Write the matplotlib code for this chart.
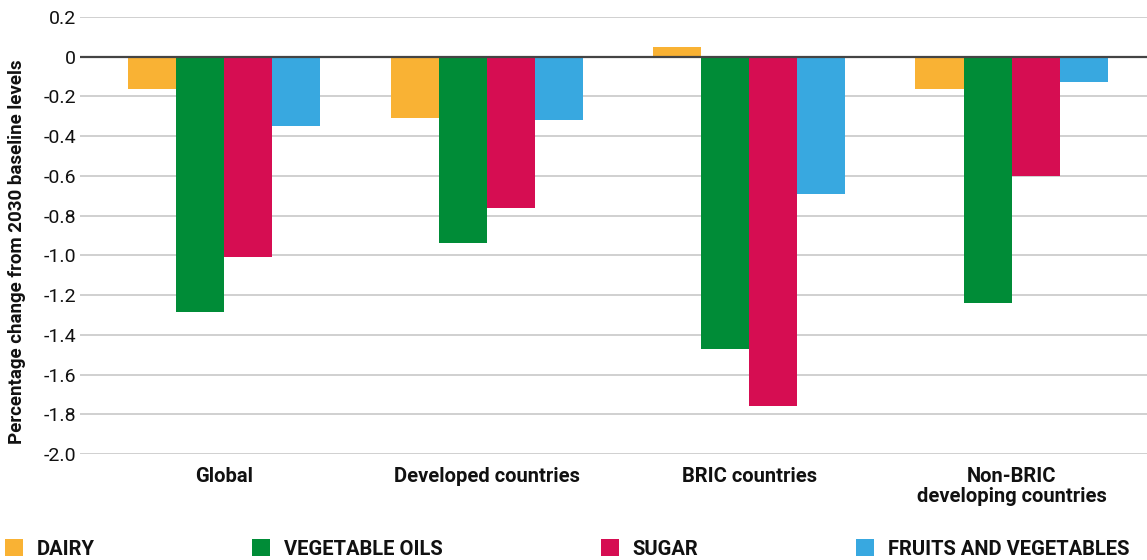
import matplotlib
matplotlib.use("Agg")
import matplotlib.pyplot as plt
import numpy as np

categories = ["Global", "Developed countries", "BRIC countries", "Non-BRIC\ndeveloping countries"]
series_names = ["DAIRY", "VEGETABLE OILS", "SUGAR", "FRUITS AND VEGETABLES"]
dairy = [-0.16, -0.31, 0.05, -0.16]
vegetable_oils = [-1.285, -0.94, -1.47, -1.24]
sugar = [-1.01, -0.76, -1.76, -0.60]
fruits_veg = [-0.35, -0.32, -0.69, -0.125]
colors = ["#F9B234", "#008C37", "#D60D52", "#38A8E0"]
yticks = [0.2, 0, -0.2, -0.4, -0.6, -0.8, -1.0, -1.2, -1.4, -1.6, -1.8, -2.0]
ytick_labels = ["0.2", "0", "-0.2", "-0.4", "-0.6", "-0.8", "-1.0", "-1.2", "-1.4", "-1.6", "-1.8", "-2.0"]

plt.rcParams['font.family'] = ['Roboto', 'DejaVu Sans']

fig = plt.figure(figsize=(11.47, 5.6), dpi=100)
ax = fig.add_axes([80/1147, 1-454/560, 1-80/1147, (454-17)/560])

x = np.arange(len(categories))
w = 0.183
all_series = [dairy, vegetable_oils, sugar, fruits_veg]
handles = []
for i, (vals, c, name) in enumerate(zip(all_series, colors, series_names)):
    h = ax.bar(x + (i - 1.5) * w, vals, width=w, color=c, label=name, zorder=2)
    handles.append(h)

ax.set_ylim(-2.0, 0.2)
ax.set_xlim(-0.549, 3.516)
ax.set_yticks(yticks)
ax.set_yticklabels(ytick_labels, fontsize=14, color="#111111")
ax.yaxis.grid(True, color="#c8c8c8", linewidth=1.2, zorder=0)
ax.axhline(0, color="#444444", linewidth=1.6, zorder=3)
ax.set_xticks(x)
ax.set_xticklabels(categories, fontsize=14.5, fontweight="bold", color="#111111", linespacing=1.1)
ax.tick_params(axis="y", length=0, pad=3)
ax.tick_params(axis="x", length=0, pad=9)
for s in ax.spines.values():
    s.set_visible(False)
ax.set_ylabel("Percentage change from 2030 baseline levels", fontsize=13.5, fontweight="bold", color="#111111")
ax.yaxis.label.set_verticalalignment("center")
ax.yaxis.set_label_coords(-0.059, 0.462)

leg = fig.legend(handles=handles, labels=series_names, loc="lower left",
                 bbox_to_anchor=(-0.003, -0.012, 0.995, 0.05), mode="expand", ncol=4,
                 frameon=False, prop={"size": 14.5, "weight": "bold"},
                 handlelength=0.9, handleheight=0.9, handletextpad=0.7, borderaxespad=0)
for t in leg.get_texts():
    t.set_color("#111111")

fig.savefig("out.png", dpi=100)
